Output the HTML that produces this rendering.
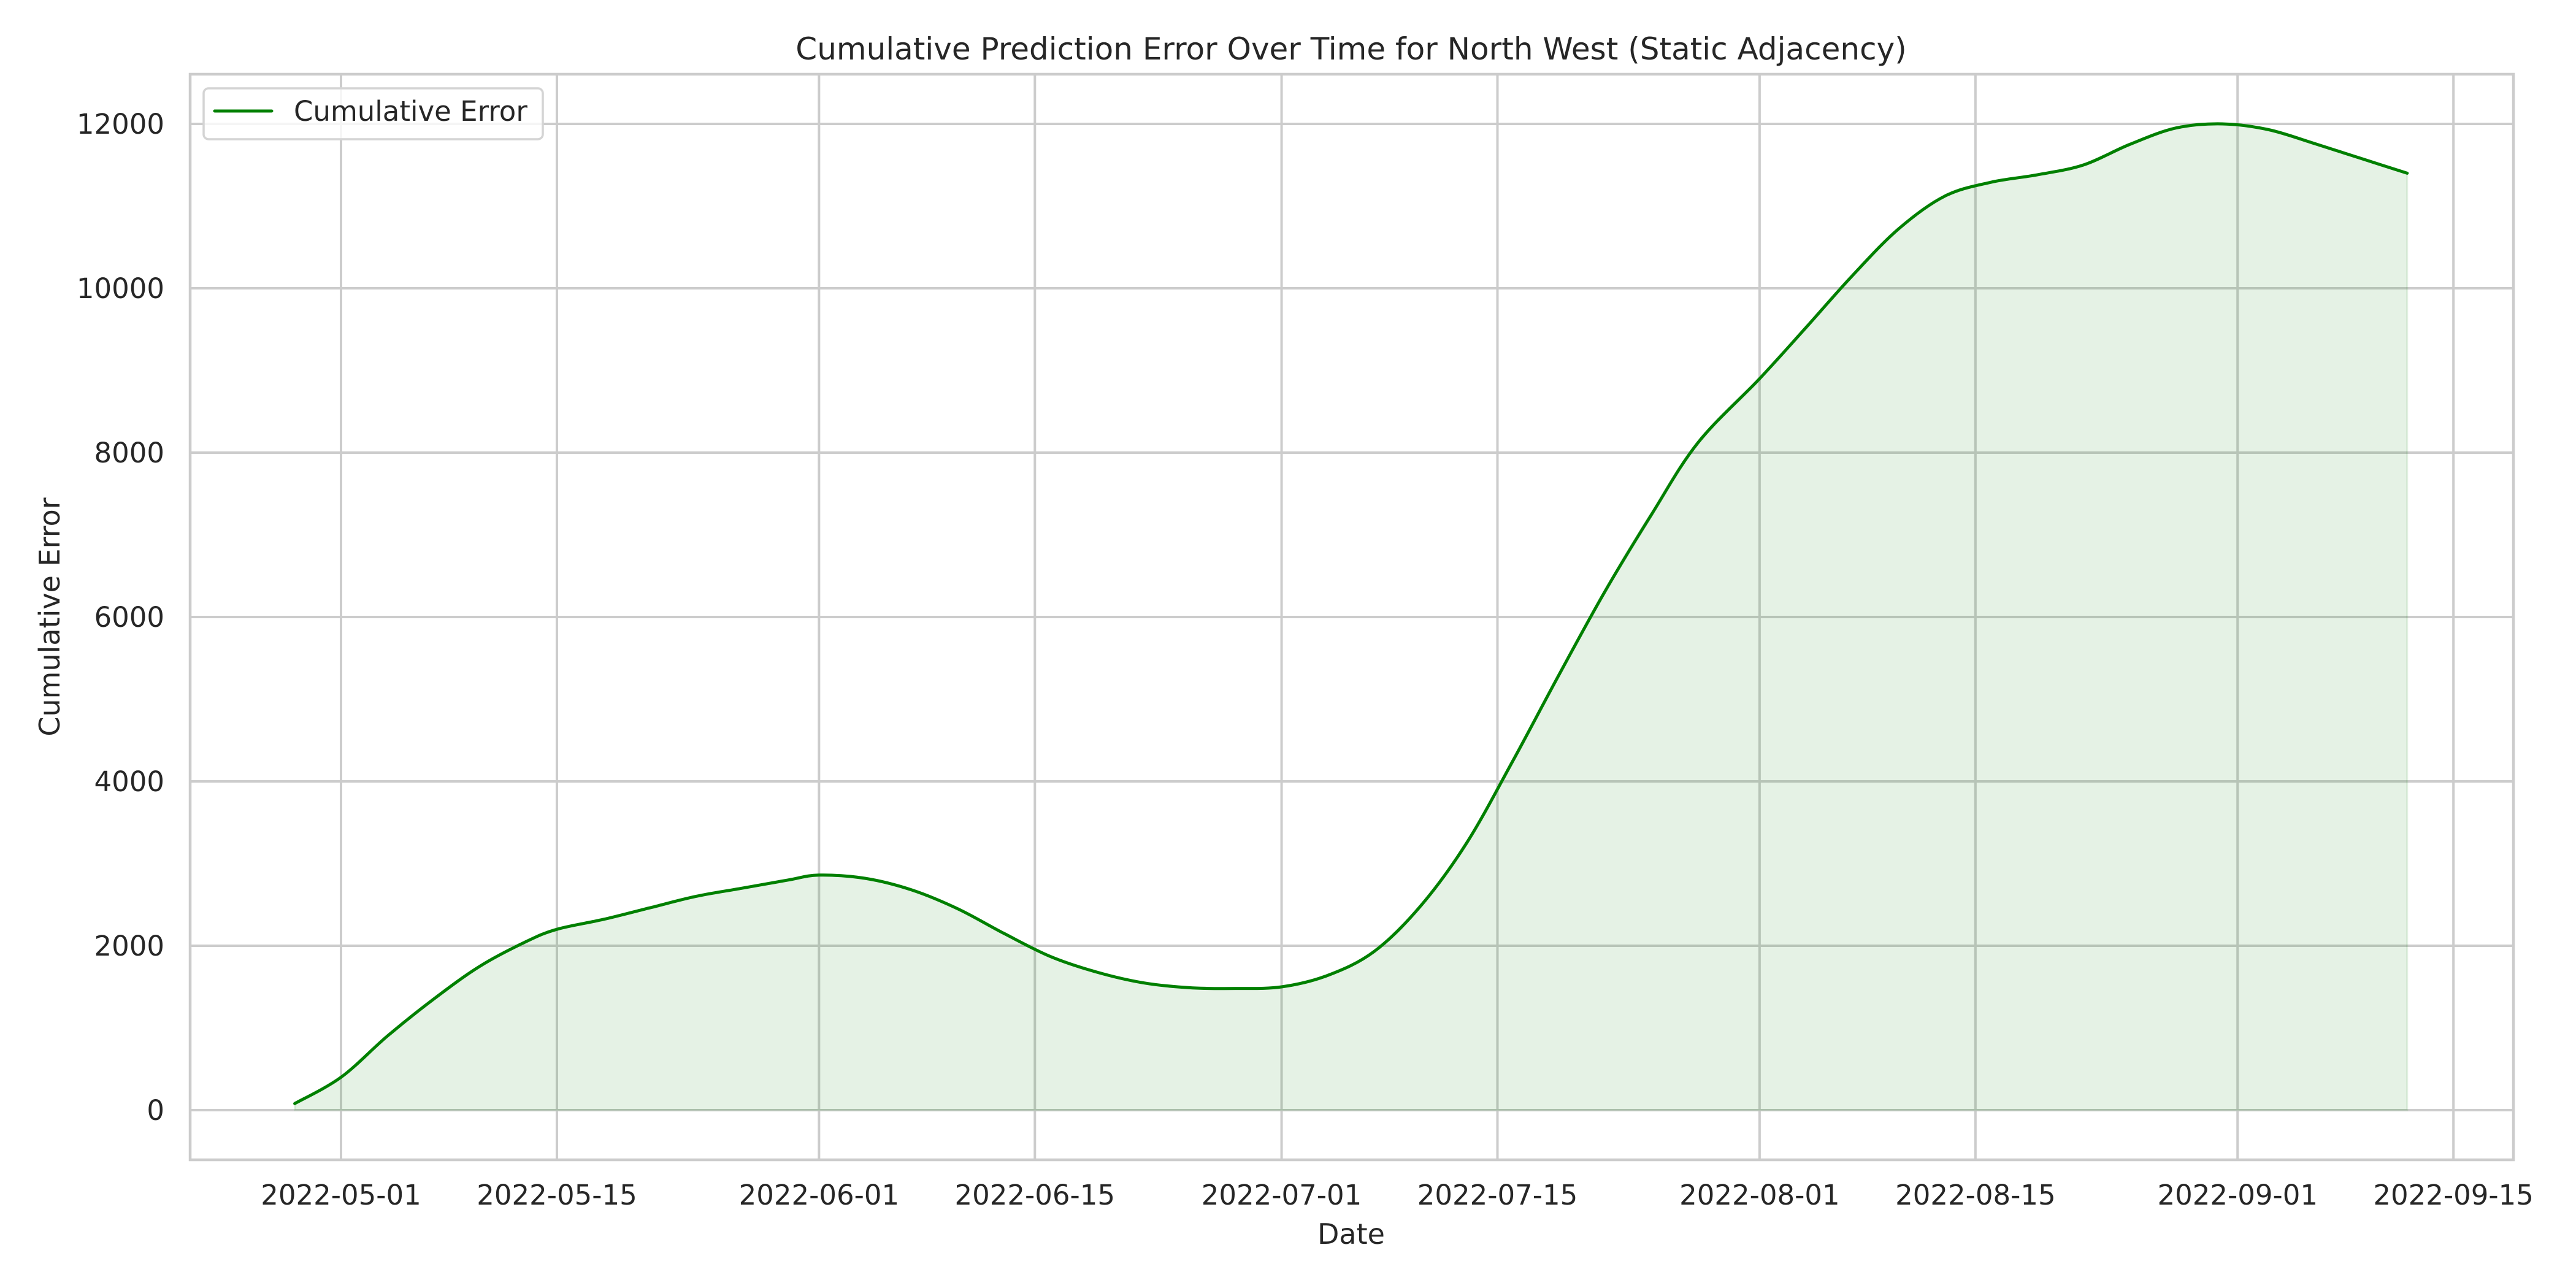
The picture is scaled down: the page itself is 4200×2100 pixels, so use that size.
<!DOCTYPE html>
<html><head><meta charset="utf-8"><style>
html,body{margin:0;padding:0;background:#fff}
svg{display:block}
text{font-family:"DejaVu Sans","Liberation Sans",sans-serif;fill:#262626}
</style></head><body>
<svg id="chart" width="4200" height="2100" viewBox="0 0 4200 2100" xmlns="http://www.w3.org/2000/svg">
<text x="2203" y="97" font-size="50" text-anchor="middle">Cumulative Prediction Error Over Time for North West (Static Adjacency)</text>
<g id="grid"></g>
<g id="plot"></g>
<rect x="310" y="121" width="3788" height="1770" fill="none" stroke="#cccccc" stroke-width="4.5"/>
<g id="xticks"></g>
<g id="yticks"></g>
<text x="2203" y="2028" font-size="46" text-anchor="middle">Date</text>
<text x="0" y="0" font-size="46" text-anchor="middle" transform="translate(97,1006) rotate(-90)">Cumulative Error</text>
<g>
<rect x="332" y="144" width="553" height="83" rx="8" fill="#fff" fill-opacity="0.8" stroke="#d4d4d4" stroke-width="3.5"/>
<line x1="350" y1="181" x2="443" y2="181" stroke="#008000" stroke-width="5" stroke-linecap="round"/>
<text x="479" y="197" font-size="45">Cumulative Error</text>
</g>
</svg>
<script>
const dates=["2022-04-28","2022-05-01","2022-05-04","2022-05-07","2022-05-10","2022-05-13","2022-05-15","2022-05-18","2022-05-21","2022-05-24","2022-05-27","2022-05-30","2022-06-01","2022-06-04","2022-06-07","2022-06-10","2022-06-13","2022-06-16","2022-06-19","2022-06-22","2022-06-25","2022-06-28","2022-07-01","2022-07-04","2022-07-07","2022-07-10","2022-07-13","2022-07-16","2022-07-19","2022-07-22","2022-07-25","2022-07-28","2022-08-01","2022-08-04","2022-08-07","2022-08-10","2022-08-13","2022-08-16","2022-08-19","2022-08-22","2022-08-25","2022-08-28","2022-08-31","2022-09-03","2022-09-06","2022-09-09","2022-09-12"];
const values=[80,400,900,1350,1750,2050,2200,2320,2460,2600,2700,2800,2860,2820,2680,2450,2150,1870,1680,1550,1490,1480,1500,1640,1930,2480,3250,4250,5300,6320,7250,8120,8900,9520,10150,10720,11120,11290,11380,11500,11750,11950,12000,11930,11760,11580,11400];
const xTickLabels=["2022-05-01","2022-05-15","2022-06-01","2022-06-15","2022-07-01","2022-07-15","2022-08-01","2022-08-15","2022-09-01","2022-09-15"];
const yTickLabels=[0,2000,4000,6000,8000,10000,12000];
const NS="http://www.w3.org/2000/svg";
const ref=Date.UTC(2022,4,1);
function dayOf(s){const p=s.split("-");return (Date.UTC(+p[0],+p[1]-1,+p[2])-ref)/86400000;}
function xS(s){return 556+25.14*dayOf(s);}
function yS(v){return 1810-v*0.134;}
function mk(tag,attrs,parent){const e=document.createElementNS(NS,tag);for(const k in attrs)e.setAttribute(k,attrs[k]);parent.appendChild(e);return e;}
const grid=document.getElementById("grid"),plot=document.getElementById("plot"),xt=document.getElementById("xticks"),yt=document.getElementById("yticks");
xTickLabels.forEach(l=>{const x=xS(l);
 const g=mk("line",{x1:x,x2:x,y1:121,y2:1891,stroke:"#cccccc","stroke-width":4},grid);
 
 
 const t=mk("text",{x:x,y:1964,"font-size":45,"text-anchor":"middle"},xt);t.textContent=l;
 
 
});
yTickLabels.forEach(v=>{const y=yS(v);
 const g=mk("line",{x1:310,x2:4098,y1:y,y2:y,stroke:"#cccccc","stroke-width":4},grid);
 
 
 const t=mk("text",{x:268,y:y+16,"font-size":45,"text-anchor":"end"},yt);t.textContent=v;
 
 
});
const pts=dates.map((d,i)=>[xS(d),yS(values[i])]);
let d="M"+pts[0][0]+","+pts[0][1];
for(let i=0;i<pts.length-1;i++){const p0=pts[Math.max(0,i-1)],p1=pts[i],p2=pts[i+1],p3=pts[Math.min(pts.length-1,i+2)];
 const c1=[p1[0]+(p2[0]-p0[0])/6,p1[1]+(p2[1]-p0[1])/6],c2=[p2[0]-(p3[0]-p1[0])/6,p2[1]-(p3[1]-p1[1])/6];
 d+=" C"+c1[0]+","+c1[1]+" "+c2[0]+","+c2[1]+" "+p2[0]+","+p2[1];}
const last=pts[pts.length-1],first=pts[0];
const area=mk("path",{d:d+" L"+last[0]+","+yS(0)+" L"+first[0]+","+yS(0)+" Z",fill:"#008000","fill-opacity":0.1,stroke:"#008000","stroke-opacity":0.1,"stroke-width":3},plot);


const line=mk("path",{d:d,fill:"none",stroke:"#008000","stroke-width":5,"stroke-linejoin":"round","stroke-linecap":"round"},plot);


</script>
</body></html>
